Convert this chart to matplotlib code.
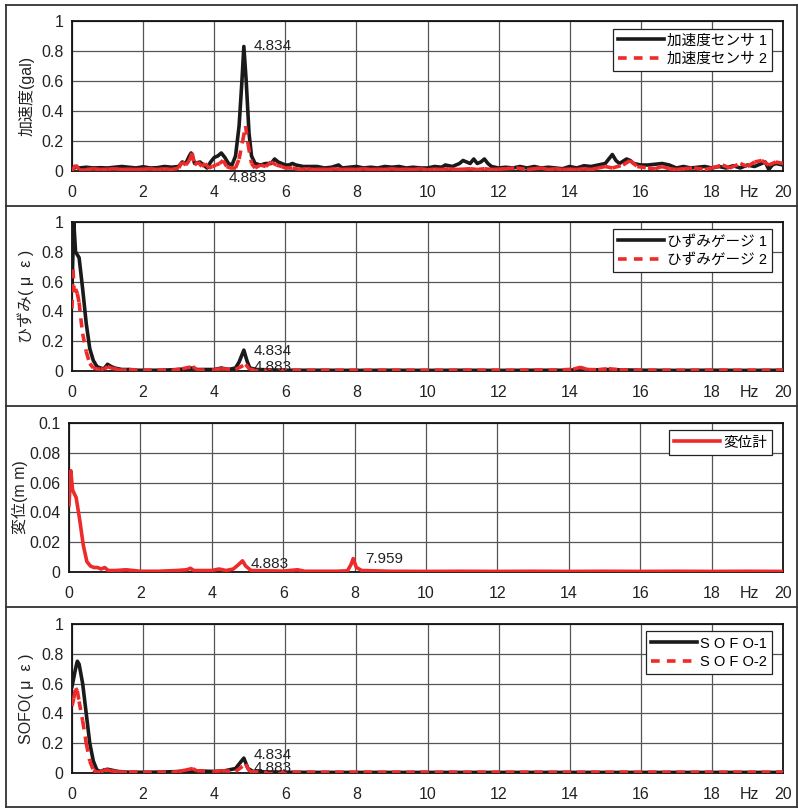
import matplotlib
matplotlib.use("Agg")
import matplotlib.pyplot as plt
from matplotlib.collections import LineCollection
from matplotlib.lines import Line2D
from matplotlib.ticker import FuncFormatter
import numpy as np

plt.rcParams['font.family'] = ['Liberation Sans', 'Noto Sans CJK JP', 'DejaVu Sans']

BLACK = '#1a1a1a'
RED = '#ee2a2a'

# --- acceleration spectra (gal) ---
acc1_f = [0.0, 0.1, 0.2, 0.4, 0.6, 0.8, 1.0, 1.2, 1.4, 1.6, 1.8, 2.0, 2.2, 2.4, 2.6, 2.8, 3.0, 3.1, 3.2, 3.3,
          3.35, 3.45, 3.6, 3.7, 3.8, 3.9, 4.0, 4.1, 4.2, 4.3, 4.4, 4.5, 4.6, 4.7, 4.78, 4.834, 4.9, 4.98, 5.05,
          5.15, 5.3, 5.45, 5.6, 5.7, 5.8, 5.9, 6.0, 6.1, 6.2, 6.3, 6.5, 6.7, 6.9, 7.1, 7.3, 7.5, 7.6, 7.8, 8.0,
          8.2, 8.4, 8.6, 8.8, 9.0, 9.2, 9.4, 9.6, 9.8, 10.0, 10.2, 10.4, 10.5, 10.7, 10.9, 11.0, 11.1, 11.2,
          11.3, 11.4, 11.5, 11.6, 11.7, 11.8, 12.0, 12.2, 12.4, 12.6, 12.8, 13.0, 13.2, 13.4, 13.6, 13.8, 14.0,
          14.2, 14.4, 14.6, 14.8, 15.0, 15.1, 15.2, 15.3, 15.4, 15.6, 15.7, 15.8, 16.0, 16.2, 16.4, 16.6, 16.8,
          17.0, 17.2, 17.4, 17.6, 17.8, 18.0, 18.2, 18.4, 18.6, 18.8, 19.0, 19.2, 19.4, 19.5, 19.6, 19.7, 19.8,
          20.0]
acc1 = [0.0, 0.03, 0.02, 0.025, 0.02, 0.022, 0.02, 0.025, 0.03, 0.025, 0.02, 0.028, 0.02, 0.022, 0.03, 0.025,
        0.03, 0.06, 0.05, 0.1, 0.12, 0.05, 0.06, 0.04, 0.02, 0.06, 0.09, 0.1, 0.12, 0.09, 0.05, 0.04, 0.1, 0.3,
        0.6, 0.83, 0.6, 0.25, 0.1, 0.05, 0.04, 0.05, 0.05, 0.08, 0.06, 0.05, 0.04, 0.04, 0.05, 0.04, 0.03, 0.03,
        0.03, 0.02, 0.025, 0.04, 0.02, 0.025, 0.03, 0.02, 0.025, 0.02, 0.03, 0.025, 0.03, 0.02, 0.025, 0.02,
        0.02, 0.03, 0.025, 0.04, 0.03, 0.05, 0.07, 0.06, 0.05, 0.08, 0.05, 0.06, 0.08, 0.05, 0.03, 0.02, 0.025,
        0.02, 0.03, 0.02, 0.03, 0.02, 0.025, 0.02, 0.015, 0.03, 0.02, 0.035, 0.03, 0.04, 0.05, 0.08, 0.11, 0.07,
        0.05, 0.08, 0.07, 0.05, 0.04, 0.04, 0.045, 0.05, 0.04, 0.02, 0.03, 0.02, 0.025, 0.03, 0.02, 0.03, 0.02,
        0.035, 0.02, 0.04, 0.03, 0.05, 0.06, 0.01, 0.04, 0.05, 0.04]

acc2_f = [0.0, 0.1, 0.2, 0.4, 0.6, 0.8, 1.0, 1.2, 1.4, 1.6, 1.8, 2.0, 2.2, 2.4, 2.6, 2.8, 3.0, 3.1, 3.2, 3.3,
          3.38, 3.45, 3.55, 3.65, 3.75, 3.85, 3.95, 4.05, 4.15, 4.25, 4.35, 4.45, 4.6, 4.7, 4.8, 4.883, 4.95,
          5.05, 5.15, 5.3, 5.45, 5.6, 5.75, 5.9, 6.0, 6.2, 6.4, 6.6, 6.8, 7.0, 7.2, 7.4, 7.6, 7.8, 8.0, 8.2, 8.4,
          8.6, 8.8, 9.0, 9.2, 9.4, 9.6, 9.8, 10.0, 10.2, 10.4, 10.6, 10.8, 11.0, 11.2, 11.4, 11.6, 11.8, 12.0,
          12.2, 12.5, 12.8, 13.0, 13.2, 13.4, 13.6, 13.8, 14.0, 14.2, 14.4, 14.6, 14.8, 15.0, 15.2, 15.5, 15.7,
          15.9, 16.2, 16.4, 16.6, 16.8, 17.0, 17.2, 17.5, 17.8, 18.0, 18.3, 18.5, 18.8, 19.0, 19.2, 19.4, 19.6,
          19.8, 20.0]
acc2 = [0.0, 0.04, 0.01, 0.01, 0.015, 0.01, 0.012, 0.015, 0.01, 0.012, 0.01, 0.012, 0.015, 0.01, 0.015, 0.01,
        0.02, 0.06, 0.04, 0.07, 0.12, 0.04, 0.06, 0.03, 0.05, 0.02, 0.03, 0.04, 0.05, 0.07, 0.03, 0.02, 0.02,
        0.08, 0.2, 0.3, 0.18, 0.05, 0.02, 0.04, 0.03, 0.06, 0.04, 0.03, 0.02, 0.02, 0.01, 0.015, 0.01, 0.012,
        0.01, 0.015, 0.01, 0.012, 0.01, 0.015, 0.01, 0.012, 0.01, 0.015, 0.01, 0.012, 0.01, 0.015, 0.008,
        0.012, 0.01, 0.015, 0.01, 0.012, 0.015, 0.01, 0.015, 0.01, 0.012, 0.015, 0.02, 0.01, 0.015, 0.02, 0.01,
        0.015, 0.01, 0.012, 0.01, 0.015, 0.01, 0.02, 0.03, 0.02, 0.04, 0.07, 0.03, 0.02, 0.015, 0.03, 0.015,
        0.01, 0.015, 0.02, 0.01, 0.02, 0.04, 0.02, 0.05, 0.03, 0.06, 0.07, 0.04, 0.06, 0.05]

# --- strain gauge spectra (micro strain) ---
sg1_f = [0.0, 0.05, 0.1, 0.2, 0.3, 0.4, 0.5, 0.6, 0.7, 0.8, 0.9, 1.0, 1.1, 1.2, 1.4, 1.6, 1.8, 2.0, 2.5, 3.0,
         3.2, 3.4, 3.5, 4.0, 4.2, 4.4, 4.6, 4.7, 4.834, 4.92, 5.0, 5.2, 6.0, 7.0, 8.0, 9.0, 10.0, 11.0, 12.0,
         13.0, 14.0, 14.2, 14.3, 14.4, 15.0, 16.0, 17.0, 18.0, 19.0, 20.0]
sg1 = [0.55, 1.0, 0.8, 0.76, 0.55, 0.32, 0.15, 0.07, 0.03, 0.02, 0.015, 0.045, 0.03, 0.02, 0.01, 0.01, 0.005,
       0.005, 0.005, 0.01, 0.015, 0.02, 0.01, 0.01, 0.02, 0.01, 0.02, 0.06, 0.14, 0.07, 0.02, 0.01, 0.005,
       0.005, 0.004, 0.005, 0.004, 0.005, 0.004, 0.005, 0.005, 0.01, 0.02, 0.005, 0.01, 0.005, 0.004, 0.005,
       0.004, 0.005]

sg2_f = [0.0, 0.03, 0.06, 0.1, 0.15, 0.2, 0.25, 0.3, 0.4, 0.5, 0.6, 0.7, 0.8, 0.9, 1.0, 1.1, 1.3, 1.6, 2.0,
         2.4, 2.8, 3.1, 3.4, 3.5, 4.0, 4.2, 4.6, 4.883, 5.0, 5.4, 5.8, 6.2, 6.6, 7.0, 7.4, 7.8, 8.2, 8.6, 9.0,
         9.4, 9.8, 10.2, 10.6, 11.0, 11.4, 11.8, 12.2, 12.6, 13.0, 13.4, 13.8, 14.1, 14.3, 14.5, 14.8, 15.1,
         15.4, 15.8, 16.2, 16.6, 17.0, 17.4, 17.8, 18.2, 18.6, 19.0, 19.4, 19.8, 20.0]
sg2 = [0.42, 0.68, 0.53, 0.55, 0.52, 0.46, 0.35, 0.25, 0.13, 0.05, 0.02, 0.015, 0.015, 0.01, 0.03, 0.02, 0.01,
       0.01, 0.005, 0.006, 0.005, 0.015, 0.03, 0.01, 0.01, 0.015, 0.01, 0.045, 0.01, 0.006, 0.005, 0.006,
       0.005, 0.006, 0.005, 0.006, 0.005, 0.006, 0.005, 0.006, 0.005, 0.006, 0.005, 0.006, 0.005, 0.006, 0.005,
       0.006, 0.008, 0.006, 0.008, 0.012, 0.025, 0.01, 0.008, 0.015, 0.008, 0.006, 0.005, 0.006, 0.005, 0.006,
       0.005, 0.006, 0.005, 0.006, 0.005, 0.006, 0.005]

# --- displacement spectrum (mm) ---
disp_f = [0.0, 0.05, 0.1, 0.2, 0.3, 0.4, 0.5, 0.6, 0.7, 0.8, 0.9, 1.0, 1.1, 1.3, 1.6, 2.0, 2.5, 3.0, 3.3, 3.4,
          3.5, 4.0, 4.2, 4.4, 4.6, 4.75, 4.86, 4.95, 5.1, 5.5, 6.0, 6.4, 6.6, 7.0, 7.5, 7.8, 7.9, 7.96, 8.05,
          8.2, 9.0, 10.0, 11.0, 12.0, 13.0, 14.0, 15.0, 16.0, 17.0, 18.0, 19.0, 20.0]
disp = [0.045, 0.068, 0.055, 0.05, 0.035, 0.018, 0.007, 0.004, 0.003, 0.003, 0.002, 0.003, 0.001, 0.001,
        0.0015, 0.0005, 0.0005, 0.001, 0.0015, 0.0025, 0.001, 0.001, 0.002, 0.001, 0.002, 0.005, 0.0075, 0.004,
        0.001, 0.0008, 0.0006, 0.0015, 0.0005, 0.0005, 0.0005, 0.0008, 0.005, 0.009, 0.003, 0.001, 0.0005,
        0.0004, 0.0005, 0.0004, 0.0005, 0.0004, 0.0005, 0.0004, 0.0005, 0.0004, 0.0005, 0.0004]

# --- SOFO fibre sensor spectra (micro strain) ---
sofo1_f = [0.0, 0.1, 0.15, 0.2, 0.3, 0.4, 0.5, 0.6, 0.7, 0.8, 0.9, 1.0, 1.1, 1.3, 1.6, 2.0, 2.5, 3.0, 3.4, 4.0,
           4.3, 4.6, 4.834, 4.95, 5.1, 6.0, 7.0, 8.0, 9.0, 10.0, 11.0, 12.0, 13.0, 14.0, 15.0, 16.0, 17.0, 18.0,
           19.0, 20.0]
sofo1 = [0.58, 0.7, 0.75, 0.73, 0.6, 0.4, 0.2, 0.08, 0.02, 0.01, 0.02, 0.025, 0.02, 0.01, 0.005, 0.005, 0.006,
         0.01, 0.015, 0.01, 0.015, 0.03, 0.1, 0.03, 0.01, 0.005, 0.004, 0.004, 0.004, 0.004, 0.004, 0.004, 0.004,
         0.004, 0.004, 0.004, 0.004, 0.004, 0.004, 0.004]

sofo2_f = [0.0, 0.05, 0.1, 0.15, 0.2, 0.3, 0.4, 0.5, 0.6, 0.7, 0.8, 0.9, 1.0, 1.1, 1.3, 1.6, 2.0, 2.4, 2.8, 3.0,
           3.2, 3.4, 3.5, 4.0, 4.2, 4.6, 4.883, 5.0, 5.4, 5.8, 6.2, 6.6, 7.0, 7.4, 7.8, 8.2, 8.6, 9.0, 9.4, 9.8,
           10.2, 10.6, 11.0, 11.4, 11.8, 12.2, 12.6, 13.0, 13.4, 13.8, 14.2, 14.6, 15.0, 15.4, 15.8, 16.2, 16.6,
           17.0, 17.4, 17.8, 18.2, 18.6, 19.0, 19.4, 19.8, 20.0]
sofo2 = [0.45, 0.5, 0.57, 0.55, 0.48, 0.35, 0.2, 0.08, 0.02, 0.005, 0.005, 0.02, 0.02, 0.015, 0.008, 0.005,
         0.005, 0.006, 0.005, 0.01, 0.02, 0.03, 0.015, 0.01, 0.015, 0.01, 0.06, 0.01, 0.005, 0.006, 0.005, 0.006,
         0.005, 0.006, 0.005, 0.006, 0.005, 0.006, 0.005, 0.006, 0.005, 0.006, 0.005, 0.006, 0.005, 0.006, 0.005,
         0.006, 0.005, 0.006, 0.005, 0.006, 0.005, 0.006, 0.005, 0.006, 0.005, 0.006, 0.005, 0.006, 0.005, 0.006,
         0.005, 0.006, 0.005, 0.005]

x_ticks = list(range(0, 21, 2))
DASH = (0, (2.4, 2.0))
TXT = '#222222'


def dashed(ax, x, y):
    # each segment restarts its dash, so dense stretches read as solid
    pts = np.column_stack([x, y])
    segs = np.stack([pts[:-1], pts[1:]], axis=1)
    ax.add_collection(LineCollection(segs, colors=RED, linewidths=2.6, linestyles=[DASH],
                                     capstyle='butt', zorder=4))


def setup(ax, ymax, ystep, ylabel, labelpad=5):
    ax.set_xlim(0, 20)
    ax.set_ylim(0, ymax)
    ax.set_xticks(x_ticks)
    ax.set_yticks(np.linspace(0, ymax, int(round(ymax / ystep)) + 1))
    ax.yaxis.set_major_formatter(FuncFormatter(lambda v, p: '%g' % round(v, 4)))
    ax.tick_params(length=0, labelsize=11.5, colors=TXT)
    ax.tick_params(axis='x', pad=10)
    ax.tick_params(axis='y', pad=6)
    ax.grid(True, color='#555555', lw=0.9)
    ax.set_axisbelow(True)
    for s in ax.spines.values():
        s.set_color('#111111')
        s.set_linewidth(1.3)
    ax.set_ylabel(ylabel, fontsize=11.5, labelpad=labelpad, color=TXT)
    ax.annotate('Hz', xy=(19.05, 0), xycoords=('data', 'axes fraction'), xytext=(0, -10),
                textcoords='offset points', ha='center', va='top', fontsize=11.5, color=TXT)


def legend(ax, handles, labels):
    lg = ax.legend(handles, labels, loc='upper right', bbox_to_anchor=(0.985, 0.95), borderaxespad=0,
                   fontsize=10.5, frameon=True, fancybox=False, edgecolor=TXT, framealpha=1,
                   handlelength=3.2, handletextpad=0.2, borderpad=0.35, labelspacing=0.3)
    lg.get_frame().set_linewidth(0.9)


def note(ax, x, y, s, ha='left'):
    ax.text(x, y, s, fontsize=11, color=TXT, va='center', ha=ha, clip_on=False, zorder=6)


solid_h = Line2D([], [], color=BLACK, lw=2.6)
dash_h = Line2D([], [], color=RED, lw=2.6, linestyle=DASH)
red_h = Line2D([], [], color=RED, lw=2.6)

fig = plt.figure(figsize=(7.98, 8.08), dpi=100)
W, H = 798.0, 808.0


def panel(left, top, bottom, right=783):
    return fig.add_axes([left / W, 1 - bottom / H, (right - left) / W, (bottom - top) / H])


ax1 = panel(72, 21, 171)
setup(ax1, 1, 0.2, '加速度(gal)')
ax1.plot(acc1_f, acc1, color=BLACK, lw=2.6, zorder=3)
dashed(ax1, acc2_f, acc2)
note(ax1, 5.1, 0.83, '4.834')
note(ax1, 4.95, -0.045, '4.883', ha='center')
legend(ax1, [solid_h, dash_h], ['加速度センサ 1', '加速度センサ 2'])

ax2 = panel(72, 222, 371)
setup(ax2, 1, 0.2, 'ひずみ( μ  ε )')
ax2.plot(sg1_f, sg1, color=BLACK, lw=2.6, zorder=3)
dashed(ax2, sg2_f, sg2)
note(ax2, 5.1, 0.135, '4.834')
note(ax2, 5.1, 0.03, '4.883')
legend(ax2, [solid_h, dash_h], ['ひずみゲージ 1', 'ひずみゲージ 2'])

ax3 = panel(69, 423, 572)
setup(ax3, 0.1, 0.02, '変位(m m)', labelpad=1)
ax3.plot(disp_f, disp, color=RED, lw=2.6, zorder=3)
note(ax3, 5.1, 0.0055, '4.883')
note(ax3, 8.3, 0.0085, '7.959')
legend(ax3, [red_h], ['変位計'])

ax4 = panel(72, 624, 773)
setup(ax4, 1, 0.2, 'SOFO( μ  ε )')
ax4.plot(sofo1_f, sofo1, color=BLACK, lw=2.6, zorder=3)
dashed(ax4, sofo2_f, sofo2)
note(ax4, 5.1, 0.12, '4.834')
note(ax4, 5.1, 0.035, '4.883')
legend(ax4, [solid_h, dash_h], ['S O F O-1', 'S O F O-2'])

# boxes around each panel
for yy in [5, 205.5, 406, 607, 807]:
    fig.add_artist(Line2D([6 / W, 797 / W], [1 - yy / H, 1 - yy / H], transform=fig.transFigure,
                          color='#333333', lw=1.3))
for xx in [6, 797]:
    fig.add_artist(Line2D([xx / W, xx / W], [1 - 5 / H, 1 - 807 / H], transform=fig.transFigure,
                          color='#333333', lw=1.3))

fig.savefig('out.png', dpi=100, facecolor='white')
